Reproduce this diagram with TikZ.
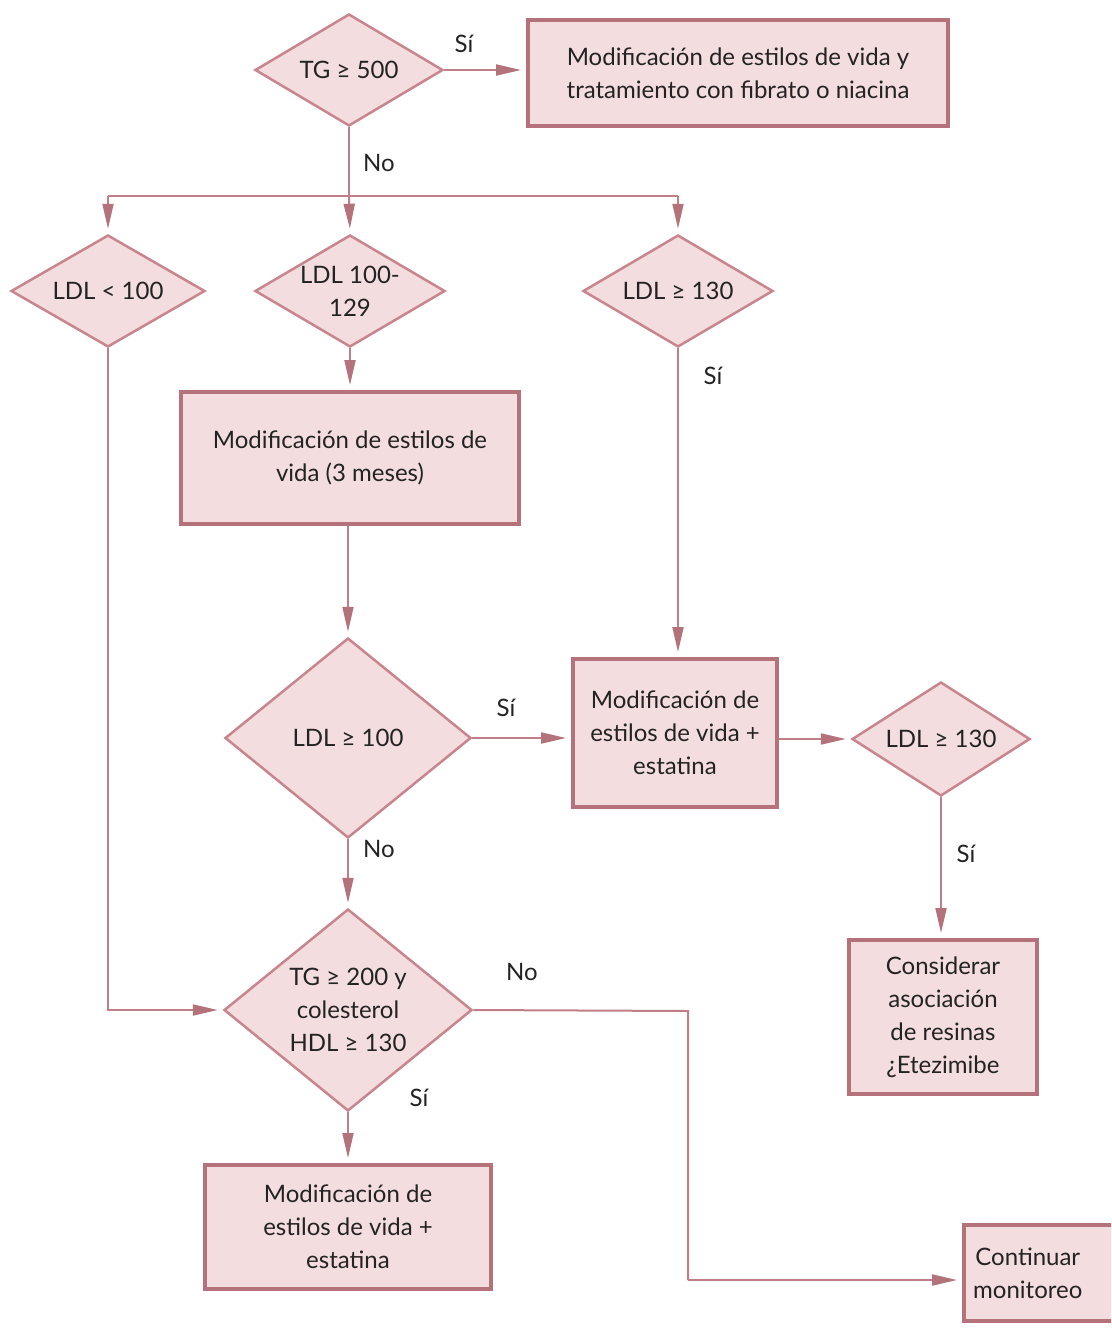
\documentclass[tikz,border=0pt]{standalone}
\usepackage{fontspec}
\setmainfont{Lato}
\usetikzlibrary{shapes.geometric,arrows.meta}
\definecolor{rosefill}{HTML}{F3DDDE}
\definecolor{roseline}{HTML}{B5727B}
\definecolor{diamline}{HTML}{C8858D}
\definecolor{arrowc}{HTML}{C07E86}
\definecolor{tipc}{HTML}{B4727B}
\definecolor{txt}{HTML}{232323}
\tikzset{
  every node/.style={font=\fontsize{24}{33}\selectfont, text=txt},
  dec/.style={diamond, draw=diamline, fill=rosefill, line width=2.5pt, inner sep=0pt},
  dtext/.style={inner sep=0pt, align=center},
  procbox/.style={rectangle, draw=roseline, fill=rosefill, line width=4pt, inner sep=0pt, align=center},
  conn/.style={draw=arrowc, line width=2pt},
  arr/.style={conn, -{Triangle[length=25pt,width=11pt,color=tipc]}, shorten >=5pt},
  lbl/.style={inner sep=0pt}
}
\begin{document}
\begin{tikzpicture}[x=1pt,y=-1pt]
\useasboundingbox (0,0) rectangle (1111,1330);
\clip (0,0) rectangle (1111,1330);
\fill[white] (0,0) rectangle (1111,1330);

% decision diamonds (shapes) and their texts
\node[dec, minimum width=188pt, minimum height=112pt] (d1) at (349,70) {};
\node[dtext] (d1t) at (d1.center) {TG ≥ 500};
\node[dec, minimum width=194pt, minimum height=112pt] (d2) at (108,291) {};
\node[dtext] (d2t) at (d2.center) {LDL < 100};
\node[dec, minimum width=190pt, minimum height=112pt] (d3) at (350,291) {};
\node[dtext] (d3t) at (d3.center) {LDL 100-\\129};
\node[dec, minimum width=190pt, minimum height=112pt] (d4) at (678,291) {};
\node[dtext] (d4t) at (d4.center) {LDL ≥ 130};
\node[dec, minimum width=246pt, minimum height=200pt] (d5) at (348,738) {};
\node[dtext] (d5t) at (d5.center) {LDL ≥ 100};
\node[dec, minimum width=178pt, minimum height=114pt] (d6) at (941,739) {};
\node[dtext] (d6t) at (d6.center) {LDL ≥ 130};
\node[dec, minimum width=248pt, minimum height=202pt] (d7) at (348,1010) {};
\node[dtext] (d7t) at (d7.center) {TG ≥ 200 y\\colesterol\\HDL ≥ 130};

% process boxes
\node[procbox, minimum width=420pt, minimum height=105pt] (b1) at (738,73) {Modificación de estilos de vida y\\tratamiento con fibrato o niacina};
\node[procbox, minimum width=338pt, minimum height=132pt] (b2) at (350,458) {Modificación de estilos de\\vida (3 meses)};
\node[procbox, minimum width=204pt, minimum height=148pt] (b3) at (675,733) {Modificación de\\estilos de vida +\\estatina};
\node[procbox, minimum width=188pt, minimum height=154pt] (b4) at (943,1017) {Considerar\\asociación\\de resinas\\¿Etezimibe};
\node[procbox, minimum width=286pt, minimum height=124pt] (b5) at (348,1227) {Modificación de\\estilos de vida +\\estatina};
\node[procbox, minimum width=170pt, minimum height=96pt, anchor=west] (b6) at (962,1273) {};
\node[anchor=west, align=center, inner sep=0pt] (b6t) at (973,1273) {Continuar\\monitoreo};

% junction coordinates
\coordinate (j1) at (349,196);
\coordinate (j2) at (688,1011);
\coordinate (j3) at (688,1280);

% connectors
\draw[arr] (d1.east) -- (b1.west |- d1.east);
\draw[conn] (d1.south) -- (j1);
\draw[conn] (d2.north |- j1) -- (d4.north |- j1);
\draw[arr] (d2.north |- j1) -- (d2.north);
\draw[arr] (j1) -- (d3.north);
\draw[arr] (d4.north |- j1) -- (d4.north);
\draw[arr] (d3.south) -- (b2.north);
\draw[arr] (b2.south -| d5.north) -- (d5.north);
\draw[arr] (d4.south) -- (d4.south |- b3.north);
\draw[arr] (d5.east) -- (b3.west |- d5.east);
\draw[arr] (b3.east |- d6.west) -- (d6.west);
\draw[arr] (d6.south) -- (b4.north -| d6.south);
\draw[arr] (d5.south) -- (d7.north);
\draw[arr] (d2.south) |- (d7.west);
\draw[arr] (d7.south) -- (b5.north -| d7.south);
\draw[conn] (d7.east) -- (j2) -- (j3);
\draw[arr] (j3) -- (b6.west |- j3);

% labels
\node[lbl] (l1) at (464,44) {Sí};
\node[lbl] (l2) at (379,163) {No};
\node[lbl] (l3) at (713,376) {Sí};
\node[lbl] (l4) at (506,708) {Sí};
\node[lbl] (l5) at (379,849) {No};
\node[lbl] (l6) at (966,854) {Sí};
\node[lbl] (l7) at (522,972) {No};
\node[lbl] (l8) at (419,1098) {Sí};
\end{tikzpicture}
\end{document}
